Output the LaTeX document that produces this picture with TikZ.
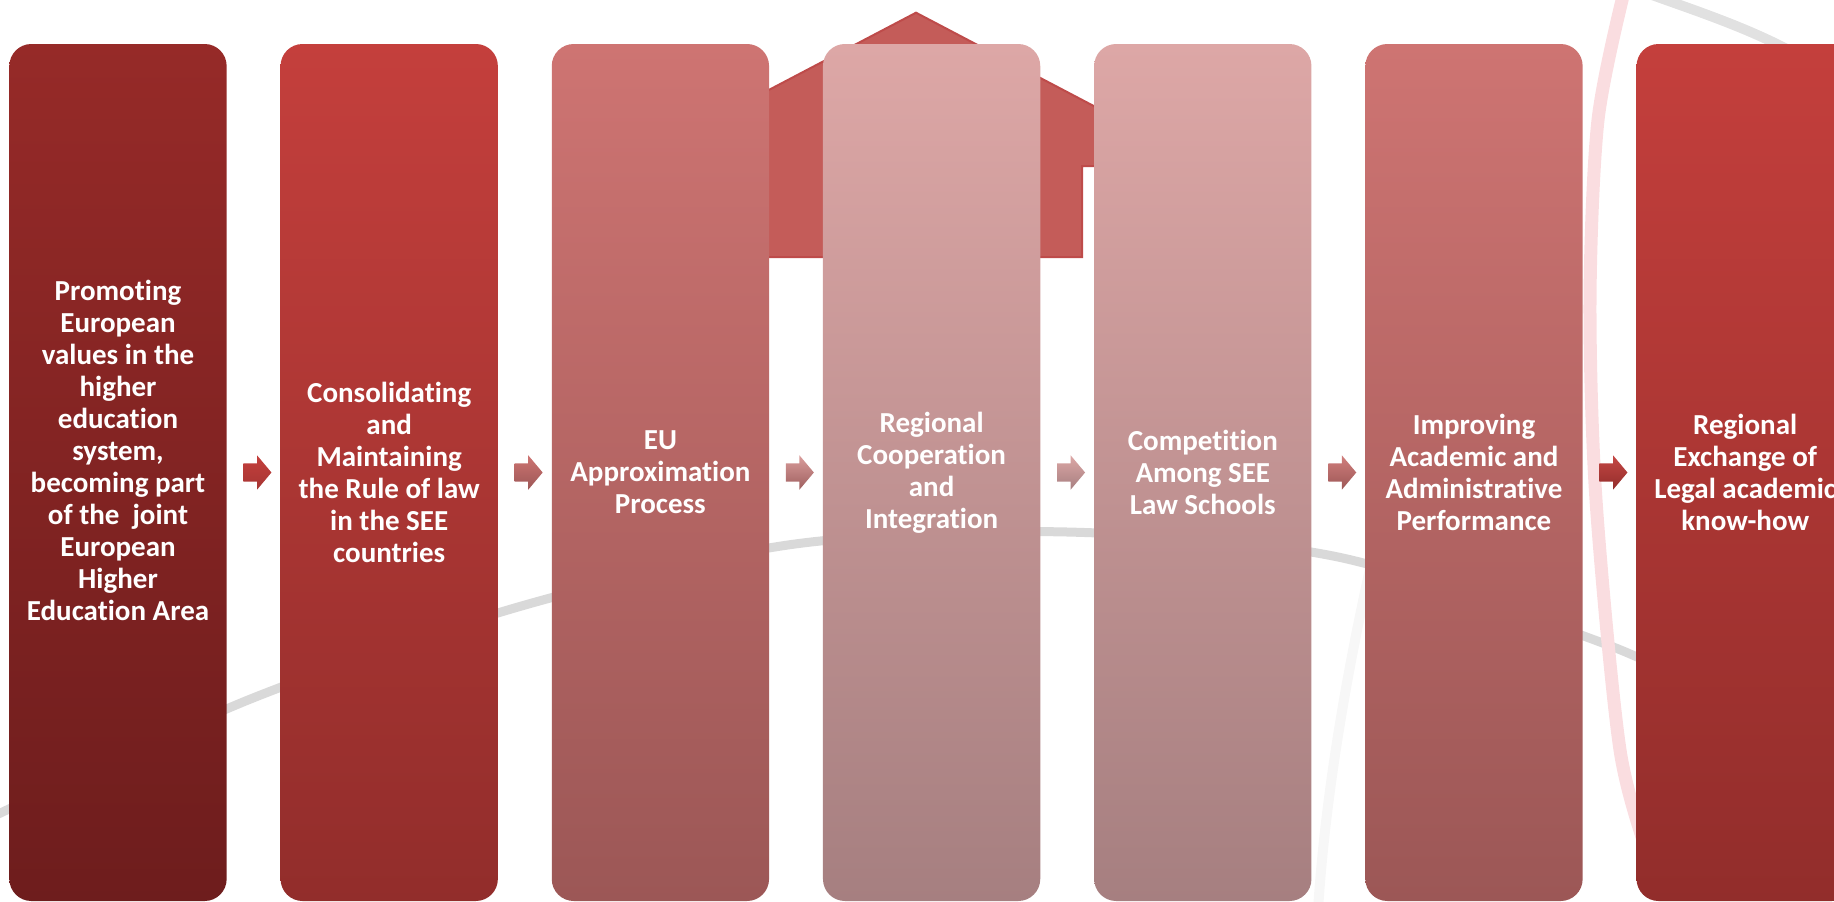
\documentclass[tikz,border=0pt]{standalone}
\usepackage{fontspec}
\setmainfont{Carlito}[Ligatures=NoCommon]
\usetikzlibrary{positioning, calc, shapes.arrows}

\definecolor{darkTop}{HTML}{962A28}
\definecolor{darkBot}{HTML}{6E1D1D}
\definecolor{redTop}{HTML}{C43F3C}
\definecolor{redBot}{HTML}{922D2B}
\definecolor{salmonTop}{HTML}{CE7472}
\definecolor{salmonBot}{HTML}{9C5756}
\definecolor{pinkTop}{HTML}{DDA7A6}
\definecolor{pinkBot}{HTML}{A67F80}
\definecolor{houseFill}{HTML}{C45C59}
\definecolor{houseLine}{HTML}{BE4B4A}
\definecolor{swoosh}{HTML}{D9D9D9}
\definecolor{pinkSwoosh}{HTML}{FADDE0}

\begin{document}
\begin{tikzpicture}[x=1pt, y=-1pt,
        stage/.style={rounded corners=22pt, minimum width=217.3pt, minimum height=857pt, inner sep=0pt, draw=none},
        stagetext/.style={align=center, text=white, inner sep=0pt, font=\fontsize{29pt}{32pt}\selectfont\bfseries},
        flowarrow/.style={single arrow, single arrow head extend=8pt, single arrow tip angle=100, minimum height=28pt, inner xsep=0pt, inner ysep=9pt, draw=none}]
        \useasboundingbox (0,0) rectangle (1834,902);
        \clip (0,0) rectangle (1834,902);

        % Background
        \draw[swoosh, line width=9pt, line cap=round] plot[smooth] coordinates {(-10,818) (253,698) (525,605) (795,544) (1067,532) (1338,557) (1608,645) (1720,700)};
        \draw[swoosh!80, line width=10pt] (1652,-5) .. controls (1705,14) and (1760,32) .. (1810,62);
        \draw[black!3, line width=10pt] (1372,560) .. controls (1345,680) and (1325,800) .. (1318,910);
        \draw[pinkSwoosh, line width=13pt] plot[smooth] coordinates {(1624,-8) (1598,120) (1590,300) (1596,500) (1620,750) (1650,860)};

        % House
        \draw[houseLine, fill=houseFill, line width=2pt, line join=miter]
            (916,12.7) -- (1208,166) -- (1082,166) -- (1082,257) -- (750,257) -- (750,166) -- (624,166) -- cycle;

        % Nodes
        \node[stage, top color=darkTop, bottom color=darkBot] (values) at (118,472.5) {};
        \node[stage, top color=redTop, bottom color=redBot, right=53.5pt of values] (rulelaw) {};
        \node[stage, top color=salmonTop, bottom color=salmonBot, right=53.5pt of rulelaw] (approx) {};
        \node[stage, top color=pinkTop, bottom color=pinkBot, right=53.5pt of approx] (coop) {};
        \node[stage, top color=pinkTop, bottom color=pinkBot, right=53.5pt of coop] (compet) {};
        \node[stage, top color=salmonTop, bottom color=salmonBot, right=53.5pt of compet] (perform) {};
        \node[stage, top color=redTop, bottom color=redBot, right=53.5pt of perform] (exchange) {};

        % Texts
        \node[stagetext] (valuestext) at ([yshift=22pt]values.center) {Promoting\\European\\values in the\\higher\\education\\system,\\becoming part\\of the~ joint\\European\\Higher\\Education Area};
        \node[stagetext] (rulelawtext) at (rulelaw) {Consolidating\\and\\Maintaining\\the Rule of law\\in the SEE\\countries};
        \node[stagetext] (approxtext) at (approx) {EU\\Approximation\\Process};
        \node[stagetext] (cooptext) at (coop) {Regional\\Cooperation\\and\\Integration};
        \node[stagetext] (competext) at (compet) {Competition\\Among SEE\\Law Schools};
        \node[stagetext] (performtext) at (perform) {Improving\\Academic and\\Administrative\\Performance};
        \node[stagetext] (exchangetext) at (exchange) {Regional\\Exchange of\\Legal academic\\know-how};

        % Arrows
        \node[flowarrow, top color=redTop, bottom color=redTop!85!black] (arr1) at ($(values.east)!.5!(rulelaw.west)$) {};
        \node[flowarrow, top color=salmonTop, bottom color=salmonBot] (arr2) at ($(rulelaw.east)!.5!(approx.west)$) {};
        \node[flowarrow, top color=pinkTop!80!salmonTop, bottom color=salmonBot!80!pinkBot] (arr3) at ($(approx.east)!.5!(coop.west)$) {};
        \node[flowarrow, top color=pinkTop, bottom color=pinkBot] (arr4) at ($(coop.east)!.5!(compet.west)$) {};
        \node[flowarrow, top color=salmonTop!80!pinkTop, bottom color=salmonBot] (arr5) at ($(compet.east)!.5!(perform.west)$) {};
        \node[flowarrow, top color=redTop!85!salmonTop, bottom color=redBot] (arr6) at ($(perform.east)!.5!(exchange.west)$) {};
    \end{tikzpicture}
\end{document}
